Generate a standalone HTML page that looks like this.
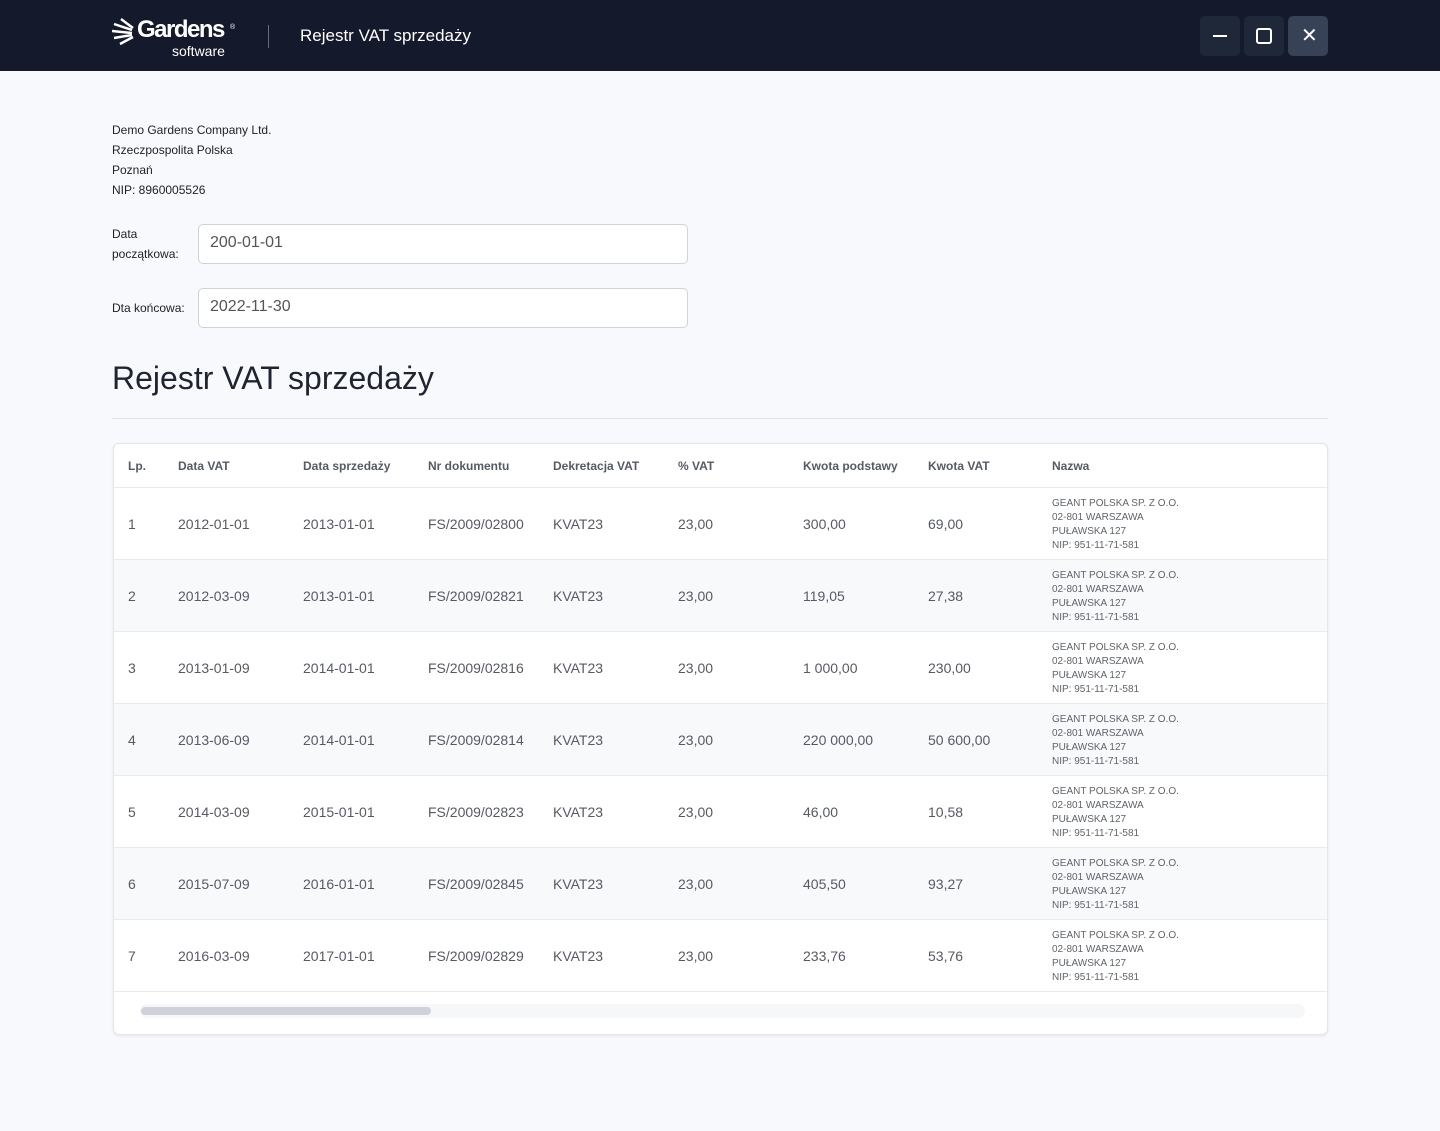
<!DOCTYPE html>
<html><head><meta charset="utf-8"><style>
*{margin:0;padding:0;box-sizing:border-box}
body{width:1440px;height:1131px;background:#f8f9fc;font-family:"Liberation Sans",sans-serif;color:#1f2430;position:relative;overflow:hidden}
.top{position:absolute;left:0;top:0;width:1440px;height:71px;background:#141a2b}
.btn{position:absolute;top:16px;width:40px;height:40px;border-radius:5px;background:#1f2839}
.abs{position:absolute;white-space:nowrap}
.info{font-size:12px;line-height:20px;color:#222}
.inp{position:absolute;left:198px;width:490px;height:40px;border:1px solid #cfd3da;border-radius:5px;background:#fff;font-size:16px;color:#555;padding:9px 11px}
.card{position:absolute;left:113px;top:443px;width:1215px;height:592px;background:#fff;border:1px solid #e4e6ea;border-radius:6px;box-shadow:0 1px 3px rgba(0,0,0,.08);overflow:hidden}
.th{position:absolute;top:15px;font-size:12px;font-weight:bold;color:#555b66}
.row{position:absolute;left:0;width:1215px;height:72px;border-top:1px solid #e8eaee}
.c{position:absolute;top:28px;font-size:14px;color:#555a63}
.n{position:absolute;left:938px;top:9px;font-size:10px;line-height:14px;color:#5f646c}
</style></head><body>
<div class="top">
<svg class="abs" style="left:112px;top:18px" width="30" height="28"><g stroke="#fff" stroke-width="2.5"><line x1="2" y1="6" x2="20" y2="12"/><line x1="0" y1="13" x2="20" y2="15"/><line x1="2" y1="20" x2="20" y2="17"/><line x1="8" y1="26" x2="21" y2="19"/><line x1="9" y1="1" x2="21" y2="10"/></g></svg>
<div class="abs" style="left:137px;top:16px;font-size:24px;font-weight:bold;color:#fff;letter-spacing:-1.5px">Gardens</div>
<div class="abs" style="left:230px;top:24px;font-size:7px;color:#fff">®</div>
<div class="abs" style="left:172px;top:43px;font-size:14px;color:#fff">software</div>
<div class="abs" style="left:268px;top:25px;width:1px;height:23px;background:#666c7a"></div>
<div class="abs" style="left:300px;top:26px;font-size:17px;color:#fff">Rejestr VAT sprzedaży</div>
<div class="btn" style="left:1200px"><div class="abs" style="left:13px;top:19px;width:14px;height:2px;background:#fff"></div></div>
<div class="btn" style="left:1244px"><div class="abs" style="left:12px;top:12px;width:16px;height:16px;border:2px solid #fff;border-radius:3px"></div></div>
<div class="btn" style="left:1288px;background:#374257"><div class="abs" style="left:13px;top:7px;font-size:20px;color:#fff">✕</div></div>
</div>
<div class="abs info" style="left:112px;top:120px">Demo Gardens Company Ltd.<br>Rzeczpospolita Polska<br>Poznań<br>NIP: 8960005526</div>
<div class="abs info" style="left:112px;top:224px">Data<br>początkowa:</div>
<div class="inp" style="top:224px">200-01-01</div>
<div class="abs info" style="left:112px;top:298px">Dta końcowa:</div>
<div class="inp" style="top:288px">2022-11-30</div>
<div class="abs" style="left:112px;top:360px;font-size:32px;color:#1f2430">Rejestr VAT sprzedaży</div>
<div class="abs" style="left:112px;top:418px;width:1216px;height:1px;background:#e2e4e8"></div>
<div class="card">
<div class="th" style="left:14px">Lp.</div><div class="th" style="left:64px">Data VAT</div><div class="th" style="left:189px">Data sprzedaży</div><div class="th" style="left:314px">Nr dokumentu</div><div class="th" style="left:439px">Dekretacja VAT</div><div class="th" style="left:564px">% VAT</div><div class="th" style="left:689px">Kwota podstawy</div><div class="th" style="left:814px">Kwota VAT</div><div class="th" style="left:938px">Nazwa</div>
ROWS
</div>
<script>
var d=[["1","2012-01-01","2013-01-01","FS/2009/02800","300,00","69,00"],["2","2012-03-09","2013-01-01","FS/2009/02821","119,05","27,38"],["3","2013-01-09","2014-01-01","FS/2009/02816","1 000,00","230,00"],["4","2013-06-09","2014-01-01","FS/2009/02814","220 000,00","50 600,00"],["5","2014-03-09","2015-01-01","FS/2009/02823","46,00","10,58"],["6","2015-07-09","2016-01-01","FS/2009/02845","405,50","93,27"],["7","2016-03-09","2017-01-01","FS/2009/02829","233,76","53,76"]];
var h="";d.forEach(function(r,i){var x=[14,64,189,314,439,564,689,814];var v=[r[0],r[1],r[2],r[3],"KVAT23","23,00",r[4],r[5]];
h+='<div class="row" style="top:'+(43+i*72)+'px;background:'+(i%2?'#f8f9fb':'#fff')+'">';
v.forEach(function(t,j){h+='<div class="c" style="left:'+x[j]+'px">'+t+'</div>'});
h+='<div class="n">GEANT POLSKA SP. Z O.O.<br>02-801 WARSZAWA<br>PUŁAWSKA 127<br>NIP: 951-11-71-581</div></div>';});
h+='<div class="row" style="top:547px;height:1px"></div><div class="abs" style="left:26px;top:560px;width:1165px;height:14px;background:#f6f7f9;border-radius:7px"></div><div class="abs" style="left:27px;top:563px;width:290px;height:8px;background:#cfd2db;border-radius:4px"></div>';
document.querySelector('.card').innerHTML=document.querySelector('.card').innerHTML.replace('ROWS',h);
</script>
</body></html>
